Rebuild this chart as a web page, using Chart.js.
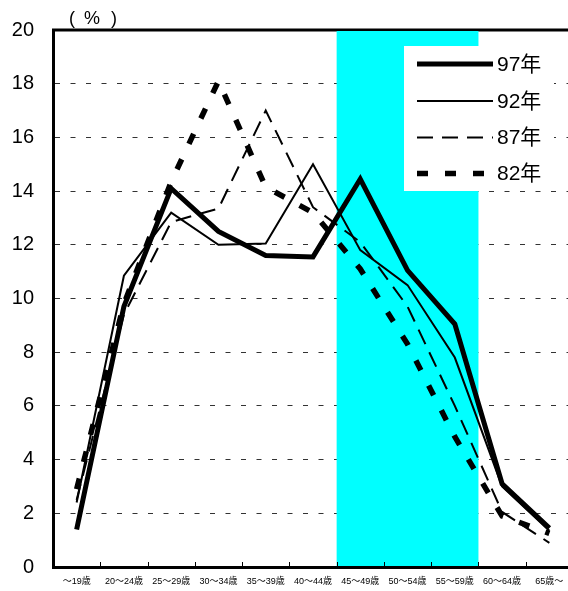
<!DOCTYPE html>
<html>
<head>
<meta charset="utf-8">
<script src="https://cdn.jsdelivr.net/npm/chart.js@4/dist/chart.umd.min.js"></script>
<style>
  html, body { margin: 0; padding: 0; background: #fff; overflow: hidden; }
  #wrap { width: 568px; height: 591px; overflow: hidden; }
  canvas { display: block; }
</style>
</head>
<body>
<div id="wrap"><canvas id="c" width="573" height="591"></canvas></div>
<script>
// Age groups on the horizontal axis
const categories = ['～19歳', '20～24歳', '25～29歳', '30～34歳', '35～39歳', '40～44歳',
                    '45～49歳', '50～54歳', '55～59歳', '60～64歳', '65歳～'];

// Share of each age group (%) by survey year
const y97 = [1.4, 9.7, 14.1, 12.5, 11.6, 11.55, 14.45, 11.05, 9.05, 3.1, 1.45];
const y92 = [2.4, 10.85, 13.2, 12.0, 12.05, 15.0, 11.8, 10.5, 7.8, 3.0, 1.35];
const y87 = [2.5, 9.4, 12.85, 13.35, 17.0, 13.4, 12.1, 9.7, 6.0, 2.05, 0.9];
const y82 = [2.9, 9.8, 14.35, 18.1, 14.15, 13.2, 11.1, 8.3, 4.85, 1.9, 1.25];

const seriesNames = ['97年', '92年', '87年', '82年'];
const yTicks = [0, 2, 4, 6, 8, 10, 12, 14, 16, 18, 20];

// Highlighted age groups (index range in categories)
const bandFrom = 6, bandTo = 8;

const FONT = '"Liberation Sans", Arial, "Noto Sans CJK JP", sans-serif';

const styles = [
  { width: 5, dash: [] },
  { width: 2, dash: [] },
  { width: 2, dash: [16, 9] },
  { width: 5.5, dash: [11, 17] }
];

const backdrop = {
  id: 'backdrop',
  beforeDatasetsDraw(chart) {
    const { ctx, chartArea: a, scales: { x } } = chart;
    const w = (a.right - a.left) / categories.length;
    ctx.save();
    // top frame line
    ctx.strokeStyle = '#000';
    ctx.lineWidth = 3;
    ctx.beginPath();
    ctx.moveTo(a.left - 1, a.top);
    ctx.lineTo(a.right, a.top);
    ctx.stroke();
    // highlight band
    const x0 = x.getPixelForValue(bandFrom) - w / 2;
    const x1 = x.getPixelForValue(bandTo) + w / 2;
    ctx.fillStyle = '#00FFFF';
    ctx.fillRect(x0, a.top + 1, x1 - x0, a.bottom - a.top - 2);
    // inward tick marks on the category axis
    ctx.strokeStyle = '#000';
    ctx.lineWidth = 1;
    for (let i = 1; i < categories.length; i++) {
      const px = Math.round(a.left + i * w) + 0.5;
      ctx.beginPath();
      ctx.moveTo(px, a.bottom);
      ctx.lineTo(px, a.bottom - 5);
      ctx.stroke();
    }
    // unit label
    ctx.fillStyle = '#000';
    ctx.font = '18px ' + FONT;
    ctx.textBaseline = 'alphabetic';
    ctx.textAlign = 'left';
    ctx.fillText('(', 69, 24);
    ctx.fillText('%', 84, 24);
    ctx.fillText(')', 111, 24);
    ctx.restore();
  },
  afterDraw(chart) {
    const { ctx } = chart;
    ctx.save();
    // legend box
    ctx.fillStyle = '#fff';
    ctx.fillRect(404, 46, 150, 145);
    const rows = [64, 101, 137.5, 173.5];
    ctx.font = '21px ' + FONT;
    ctx.textBaseline = 'middle';
    ctx.textAlign = 'left';
    rows.forEach((ry, i) => {
      ctx.strokeStyle = '#000';
      ctx.lineWidth = styles[i].width;
      ctx.setLineDash(styles[i].dash);
      ctx.lineCap = 'butt';
      ctx.beginPath();
      ctx.moveTo(417, ry);
      ctx.lineTo(493, ry);
      ctx.stroke();
      ctx.setLineDash([]);
      ctx.fillStyle = '#000';
      ctx.fillText(seriesNames[i], 497, ry + 1);
    });
    ctx.restore();
  }
};

const seriesData = [y97, y92, y87, y82];

new Chart(document.getElementById('c'), {
  type: 'line',
  data: {
    labels: categories,
    datasets: seriesData.map((d, i) => ({
      label: seriesNames[i],
      data: d,
      borderColor: '#000',
      borderWidth: styles[i].width,
      borderDash: styles[i].dash,
      borderCapStyle: 'butt',
      borderJoinStyle: 'miter',
      pointRadius: 0,
      tension: 0,
      fill: false,
      order: i
    }))
  },
  options: {
    responsive: false,
    animation: false,
    devicePixelRatio: 1,
    layout: { padding: { top: 30, left: 0, right: 0, bottom: 0 } },
    plugins: { legend: { display: false }, tooltip: { enabled: false } },
    scales: {
      x: {
        type: 'category',
        offset: true,
        grid: { display: false, drawTicks: false },
        border: { display: true, color: '#000', width: 3 },
        ticks: {
          color: '#000',
          font: { size: 9, family: FONT },
          padding: 9,
          maxRotation: 0,
          autoSkip: false
        },
        afterFit(s) { s.height = 24; s.paddingLeft = 0; s.paddingRight = 0; }
      },
      y: {
        min: 0,
        max: 20,
        afterBuildTicks(s) { s.ticks = yTicks.map(v => ({ value: v })); },
        grid: {
          drawTicks: false,
          color: ctx => (ctx.tick && (ctx.tick.value === 0 || ctx.tick.value === 20)) ? 'rgba(0,0,0,0)' : '#333',
          lineWidth: 1
        },
        border: { display: true, color: '#000', width: 3, dash: [5, 10.5] },
        ticks: {
          color: '#000',
          font: { size: 20, family: FONT },
          padding: 19
        },
        afterFit(s) { s.width = 53; s.paddingTop = 0; s.paddingBottom = 0; }
      }
    }
  },
  plugins: [backdrop]
});
</script>
</body>
</html>
